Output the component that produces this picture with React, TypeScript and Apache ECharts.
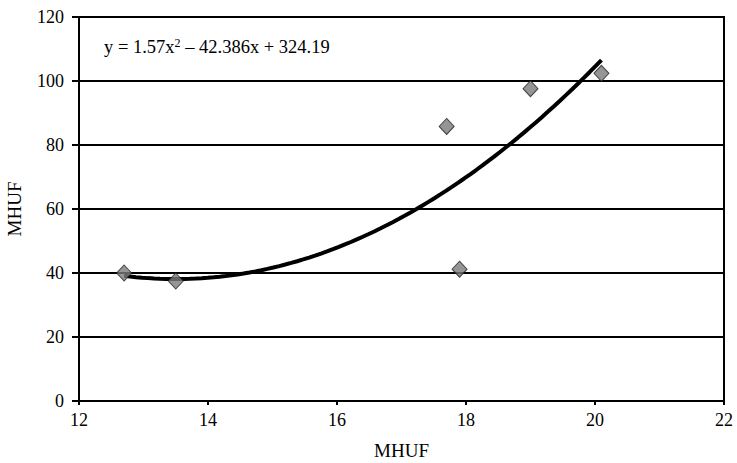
import React, { useEffect, useRef } from "react";
import * as echarts from "echarts";

const xValues = [12.7, 13.5, 17.7, 17.9, 19.0, 20.1];
const yValues = [40.0, 37.5, 85.8, 41.2, 97.6, 102.4];
// Displayed trendline: y = 1.57x^2 - 42.386x + 324.19
const trendCoefficients = [1.57, -42.386, 324.19];
const trendRange = [12.7, 20.1];
const xTicks = [12, 14, 16, 18, 20, 22];
const yTicks = [0, 20, 40, 60, 80, 100, 120];

const FONT = '"Liberation Serif", "Times New Roman", serif';

export default function App() {
  const ref = useRef<HTMLDivElement>(null);
  useEffect(() => {
    if (!ref.current) return;
    const chart = echarts.init(ref.current, null, { renderer: "svg" });
    const [a, b, c] = trendCoefficients;
    const trend: number[][] = [];
    const steps = 80;
    for (let i = 0; i <= steps; i++) {
      const x = trendRange[0] + ((trendRange[1] - trendRange[0]) * i) / steps;
      trend.push([x, a * x * x + b * x + c]);
    }
    chart.setOption({
      animation: false,
      backgroundColor: "#fff",
      textStyle: { fontFamily: FONT },
      grid: {
        left: 79,
        right: 13,
        top: 17,
        bottom: 62,
        containLabel: false,
        outerBoundsMode: "none",
        show: true,
        borderColor: "#000",
        borderWidth: 2,
        backgroundColor: "transparent",
      },
      xAxis: {
        type: "value",
        min: xTicks[0],
        max: xTicks[xTicks.length - 1],
        interval: 2,
        name: "MHUF",
        nameLocation: "middle",
        nameGap: 40,
        nameTextStyle: { fontFamily: FONT, fontSize: 19, color: "#000" },
        axisLine: { show: true, onZero: false, lineStyle: { color: "#000", width: 2 } },
        axisTick: { show: true, length: 4, lineStyle: { color: "#000", width: 2 } },
        axisLabel: { fontFamily: FONT, fontSize: 18, color: "#000", margin: 10 },
        splitLine: { show: false },
      },
      yAxis: {
        type: "value",
        min: yTicks[0],
        max: yTicks[yTicks.length - 1],
        interval: 20,
        name: "MHUF",
        nameLocation: "middle",
        nameGap: 55,
        nameRotate: 90,
        nameTextStyle: { fontFamily: FONT, fontSize: 19, color: "#000" },
        axisLine: { show: true, lineStyle: { color: "#000", width: 2 } },
        axisTick: { show: true, length: 7, lineStyle: { color: "#000", width: 2 } },
        axisLabel: { fontFamily: FONT, fontSize: 18, color: "#000", margin: 15 },
        splitLine: { show: true, lineStyle: { color: "#000", width: 2 } },
      },
      series: [
        {
          type: "line",
          data: trend,
          showSymbol: false,
          symbol: "none",
          lineStyle: { color: "#000", width: 4 },
          z: 2,
        },
        {
          type: "scatter",
          data: xValues.map((x, i) => [x, yValues[i]]),
          symbol: "diamond",
          symbolSize: [15, 16],
          itemStyle: { color: "#7a7a7a", borderColor: "#222", borderWidth: 1 },
          z: 3,
        },
      ],
      graphic: [
        {
          type: "text",
          left: 104,
          top: 37,
          style: {
            text: "{n|y = 1.57x}{s|2}{n| – 42.386x + 324.19}",
            rich: {
              n: { fontFamily: FONT, fontSize: 18.5, fill: "#000", color: "#000" },
              s: { fontFamily: FONT, fontSize: 12, fill: "#000", color: "#000", verticalAlign: "top", padding: [0, 0, 8, 0] },
            },
          },
        },
      ],
    });
    return () => chart.dispose();
  }, []);
  return <div ref={ref} style={{ width: 737, height: 463, position: "absolute", left: 0, top: 0 }} />;
}
